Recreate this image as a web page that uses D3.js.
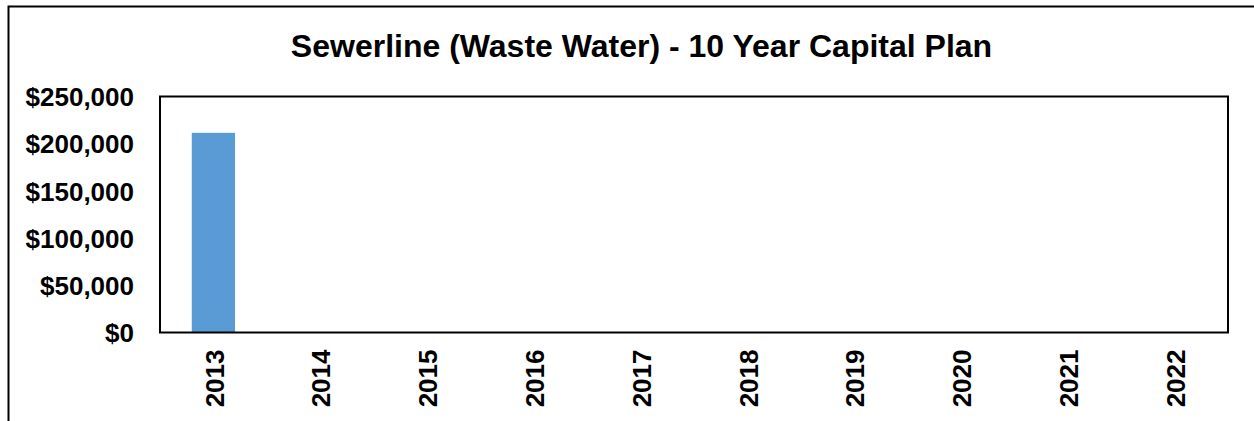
<!DOCTYPE html>
<head>
  <meta charset="utf-8">
  <script src="https://d3js.org/d3.v7.min.js"></script>
  <style>
    body { margin:0; background:#fff; }
    text { font-family: "Liberation Sans", Arial, sans-serif; font-weight: bold; fill: #000; }
  </style>
</head>
<body>
<script>
var years = ["2013", "2014", "2015", "2016", "2017", "2018", "2019", "2020", "2021", "2022"];
var spending = [211500, 0, 0, 0, 0, 0, 0, 0, 0, 0];
var yTicks = [0, 50000, 100000, 150000, 200000, 250000];
var chartTitle = "Sewerline (Waste Water) - 10 Year Capital Plan";

var width = 1254, height = 421;
var plot = {left: 160, right: 1228, top: 96.5, bottom: 332.5};

var svg = d3.select("body").append("svg")
    .attr("width", width)
    .attr("height", height);

// outer chart border (left and top only visible in crop)
svg.append("path")
    .attr("d", "M8.5," + height + "V6.5H" + width)
    .attr("fill", "none")
    .attr("stroke", "#000")
    .attr("stroke-width", 2);

svg.append("text")
    .attr("x", 641.5)
    .attr("y", 56.5)
    .attr("text-anchor", "middle")
    .style("font-size", "32px")
    .text(chartTitle);

var x = d3.scaleBand()
    .domain(years)
    .range([plot.left, plot.right])
    .paddingInner(0.595)
    .paddingOuter(0.2975);

var y = d3.scaleLinear()
    .domain([0, 250000])
    .range([plot.bottom, plot.top]);

var fmt = function(d) { return "$" + d3.format(",")(d); };

svg.selectAll("rect.bar")
    .data(years)
    .enter()
    .append("rect")
    .attr("class", "bar")
    .attr("x", function(d) { return x(d); })
    .attr("width", x.bandwidth())
    .attr("y", function(d, i) { return y(spending[i]); })
    .attr("height", function(d, i) { return y(0) - y(spending[i]); })
    .attr("fill", "#5B9BD5");

// plot frame
svg.append("rect")
    .attr("x", plot.left)
    .attr("y", plot.top)
    .attr("width", plot.right - plot.left)
    .attr("height", plot.bottom - plot.top)
    .attr("fill", "none")
    .attr("stroke", "#000")
    .attr("stroke-width", 2);

var yAxis = d3.axisLeft(y)
    .tickValues(yTicks)
    .tickFormat(fmt)
    .tickSize(0)
    .tickPadding(26);

var gy = svg.append("g")
    .attr("transform", "translate(" + plot.left + ",0)")
    .call(yAxis);
gy.select(".domain").remove();
gy.selectAll("text")
    .attr("dy", "0.35em")
    .style("font-size", "26px")
    .style("font-family", "'Liberation Sans', Arial, sans-serif")
    .style("font-weight", "bold");

svg.selectAll("text.year")
    .data(years)
    .enter()
    .append("text")
    .attr("class", "year")
    .attr("transform", function(d) {
        return "translate(" + (x(d) + x.bandwidth() / 2 + 1) + "," + (plot.bottom + 17) + ") rotate(-90)";
    })
    .attr("text-anchor", "end")
    .attr("dy", "0.35em")
    .style("font-size", "26px")
    .text(function(d) { return d; });
</script>
</body>
